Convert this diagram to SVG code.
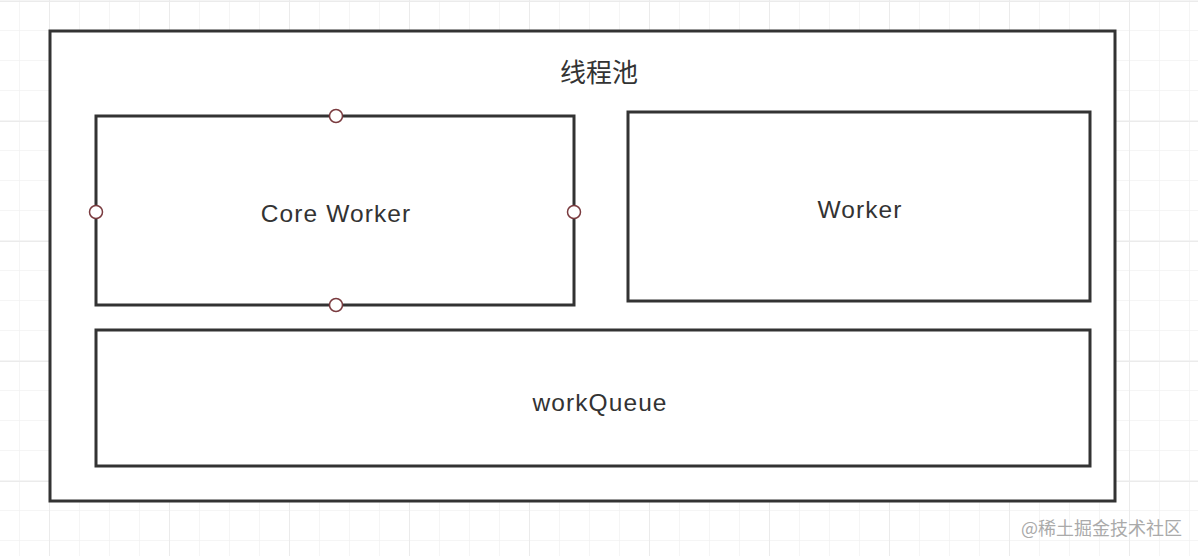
<svg xmlns="http://www.w3.org/2000/svg" width="1198" height="556" viewBox="0 0 1198 556">
<defs>
<pattern id="minor" x="19" y="0" width="30" height="30" patternUnits="userSpaceOnUse">
<path d="M0 0V30M0 0H30" fill="none" stroke="#f2f2f2" stroke-width="1.5"/>
</pattern>
<pattern id="major" x="49" y="1" width="120" height="120" patternUnits="userSpaceOnUse">
<path d="M0 0V120M0 0H120" fill="none" stroke="#ebebeb" stroke-width="2"/>
</pattern>
</defs>
<style>
.box{fill:#fff;stroke:#333;stroke-width:3}
.lbl{font-family:"Liberation Sans","Noto Sans CJK SC",sans-serif;font-size:24.5px;letter-spacing:1.1px;fill:#333;text-anchor:middle}
.cjk{font-family:"Noto Sans CJK SC",sans-serif;font-size:26px;fill:#333;text-anchor:middle}
.pt{fill:#fff;stroke:#7a3b3f;stroke-width:1.5}
.wm{font-family:"Noto Sans CJK SC","Liberation Sans",sans-serif;font-size:18px;fill:#aaa;text-anchor:end}
</style>
<rect width="1198" height="556" fill="#fff"/>
<rect width="1198" height="556" fill="url(#minor)"/>
<rect width="1198" height="556" fill="url(#major)"/>
<g id="pool">
<rect class="box" x="50" y="31" width="1065" height="470"/>
<text class="cjk" x="599" y="82">线程池</text>
</g>
<g id="core-worker">
<rect class="box" x="96" y="116" width="478" height="189"/>
<text class="lbl" x="336" y="222">Core Worker</text>
<circle class="pt" cx="336" cy="116" r="6.5"/>
<circle class="pt" cx="96" cy="212" r="6.5"/>
<circle class="pt" cx="574" cy="212" r="6.5"/>
<circle class="pt" cx="336" cy="305" r="6.5"/>
</g>
<g id="worker">
<rect class="box" x="628" y="112" width="462" height="189"/>
<text class="lbl" x="860" y="218">Worker</text>
</g>
<g id="work-queue">
<rect class="box" x="96" y="330" width="994" height="136"/>
<text class="lbl" x="600" y="411">workQueue</text>
</g>
<g id="connectors"></g>
<text class="wm" x="1182" y="535">@稀土掘金技术社区</text>
</svg>
